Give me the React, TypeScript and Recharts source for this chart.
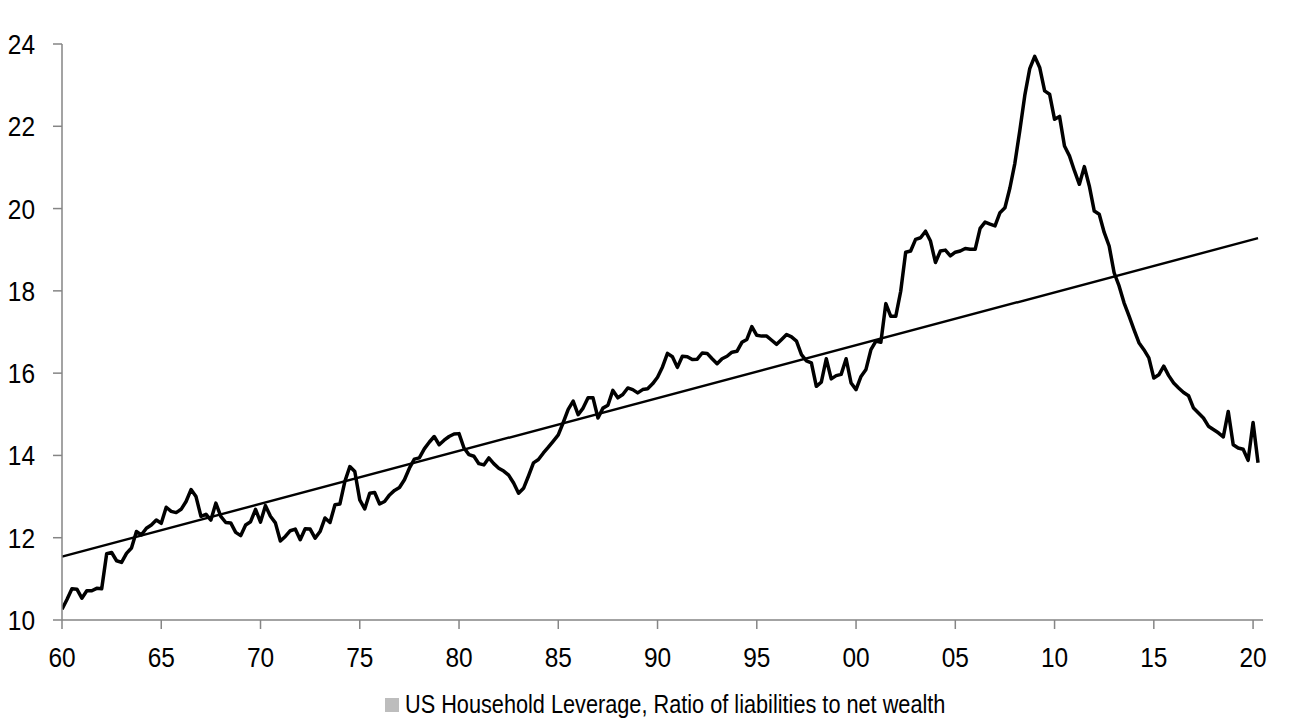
import { CartesianGrid, Line, LineChart, ReferenceLine, XAxis, YAxis } from "recharts";

// quarterly, starting 1960 Q1
const START_YEAR = 1960;
const lev60s = [
  10.26, 10.5, 10.76, 10.75, 10.53, 10.71, 10.71, 10.77, 10.76, 11.61,
  11.64, 11.44, 11.4, 11.62, 11.75, 12.15, 12.07, 12.23, 12.31, 12.43,
  12.35, 12.74, 12.64, 12.61, 12.69, 12.88, 13.17, 13.0, 12.52, 12.57,
  12.43, 12.84, 12.52, 12.37, 12.36, 12.13, 12.05, 12.31, 12.39, 12.69,
];
const lev70s = [
  12.38, 12.78, 12.52, 12.36, 11.92, 12.03, 12.17, 12.21, 11.95, 12.22,
  12.21, 11.99, 12.15, 12.48, 12.37, 12.8, 12.82, 13.37, 13.73, 13.61,
  12.92, 12.7, 13.08, 13.1, 12.82, 12.88, 13.04, 13.15, 13.22, 13.41,
  13.69, 13.91, 13.94, 14.16, 14.32, 14.46, 14.26, 14.37, 14.46, 14.52,
];
const lev80s = [
  14.53, 14.18, 14.02, 13.98, 13.8, 13.77, 13.94, 13.8, 13.69, 13.62,
  13.52, 13.33, 13.08, 13.2, 13.5, 13.82, 13.9, 14.06, 14.2, 14.35,
  14.5, 14.8, 15.12, 15.32, 14.99, 15.15, 15.4, 15.4, 14.91, 15.15,
  15.22, 15.58, 15.4, 15.48, 15.64, 15.6, 15.52, 15.6, 15.62, 15.74,
];
const lev90s = [
  15.9, 16.15, 16.48, 16.4, 16.14, 16.41, 16.4, 16.33, 16.34, 16.49,
  16.48, 16.35, 16.23, 16.35, 16.41, 16.51, 16.53, 16.75, 16.82, 17.13,
  16.92, 16.9, 16.9, 16.8, 16.7, 16.82, 16.94, 16.88, 16.78, 16.45,
  16.3, 16.25, 15.68, 15.78, 16.35, 15.86, 15.94, 15.97, 16.35, 15.76,
];
const lev00s = [
  15.6, 15.92, 16.09, 16.57, 16.78, 16.75, 17.69, 17.38, 17.38, 17.99,
  18.94, 18.97, 19.25, 19.29, 19.45, 19.21, 18.69, 18.97, 18.99, 18.85,
  18.94, 18.97, 19.03, 19.01, 19.01, 19.52, 19.67, 19.62, 19.58, 19.9,
  20.02, 20.5, 21.1, 21.9, 22.75, 23.4, 23.7, 23.43, 22.86, 22.78,
];
const lev10s = [
  22.17, 22.24, 21.52, 21.28, 20.92, 20.59, 21.02, 20.55, 19.94, 19.86,
  19.42, 19.09, 18.44, 18.12, 17.71, 17.39, 17.06, 16.74, 16.57, 16.37,
  15.88, 15.96, 16.17, 15.94, 15.76, 15.64, 15.53, 15.45, 15.15, 15.03,
  14.91, 14.71, 14.63, 14.55, 14.45, 15.07, 14.26, 14.18, 14.15, 13.88,
  14.8, 13.82,
];

// trend line end points [year, value]
const trendStart = [1960, 11.54];
const trendEnd = [2020.25, 19.28];

const xTicks = [1960, 1965, 1970, 1975, 1980, 1985, 1990, 1995, 2000, 2005, 2010, 2015, 2020];
const yTicks = [10, 12, 14, 16, 18, 20, 22, 24];
const legendLabel = "US Household Leverage, Ratio of liabilities to net wealth";

const leverage = [...lev60s, ...lev70s, ...lev80s, ...lev90s, ...lev00s, ...lev10s];
const data = leverage.map((v, i) => ({ t: START_YEAR + i / 4, v }));

const FONT = "'Liberation Sans', Arial, sans-serif";
const AXIS = "#858585";

const yearLabel = (v: number) => String(v % 100).padStart(2, "0");

// no narrow font installed, so squeeze the glyphs to look like Arial Narrow
function NarrowTick({ x, y, payload, axis }: any) {
  const label = axis === "x" ? yearLabel(payload.value) : String(payload.value);
  return (
    <text
      x={x}
      y={y}
      dy={axis === "x" ? "0.71em" : "0.355em"}
      textAnchor={axis === "x" ? "middle" : "end"}
      fontFamily={FONT}
      fontSize={28}
      fill="#000"
      textLength={label.length * 13.6}
      lengthAdjust="spacingAndGlyphs"
    >
      {label}
    </text>
  );
}

export default function App() {
  return (
    <div style={{ position: "relative", width: 1284, height: 715 }}>
      <LineChart width={1284} height={672} data={data} margin={{ top: 36, right: 29, left: 0, bottom: 0 }}>
        <CartesianGrid stroke="none" />
        <XAxis
          dataKey="t"
          type="number"
          domain={[1960, 2020.5]}
          ticks={xTicks}
          tick={<NarrowTick axis="x" />}
          stroke={AXIS}
          strokeWidth={1.5}
          tickSize={9}
          tickMargin={18}
          height={60}
          allowDataOverflow
        />
        <YAxis
          domain={[10, 24]}
          ticks={yTicks}
          tick={<NarrowTick axis="y" />}
          stroke={AXIS}
          strokeWidth={1.5}
          tickSize={9}
          tickMargin={18}
          width={54}
          allowDataOverflow
        />
        <ReferenceLine
          segment={[
            { x: trendStart[0], y: trendStart[1] },
            { x: trendEnd[0], y: trendEnd[1] },
          ]}
          stroke="#000"
          strokeWidth={2.4}
          ifOverflow="visible"
        />
        <Line
          type="linear"
          dataKey="v"
          stroke="#000"
          strokeWidth={3.5}
          strokeLinejoin="round"
          dot={false}
          activeDot={false}
          isAnimationActive={false}
        />
      </LineChart>
      <div
        style={{
          position: "absolute",
          left: 377,
          top: 684,
          display: "flex",
          alignItems: "center",
          fontFamily: FONT,
          fontSize: 25,
          lineHeight: "25px",
          color: "#000",
          whiteSpace: "nowrap",
        }}
      >
        <span style={{ width: 14, height: 14, background: "#bdbdbd", marginRight: 6, display: "inline-block" }} />
        <span style={{ display: "inline-block", transform: "scaleX(0.868)", transformOrigin: "left center" }}>
          {legendLabel}
        </span>
      </div>
    </div>
  );
}
